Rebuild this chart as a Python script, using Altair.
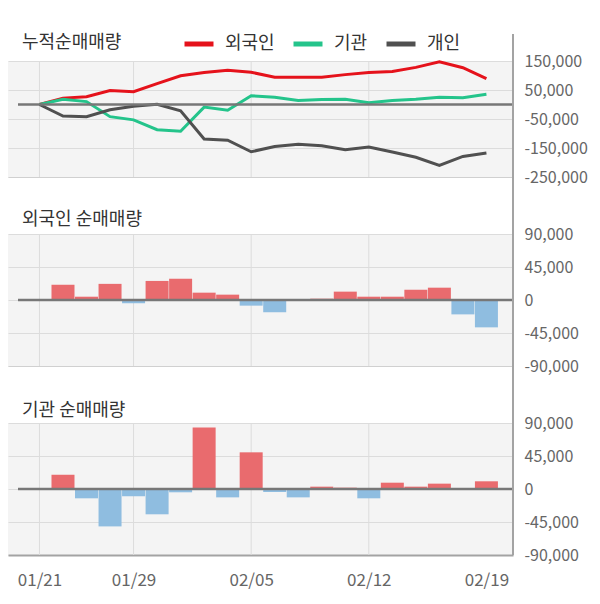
import json
import altair as alt
import pandas as pd

# ---------------- data ----------------
dates = ["01/21", "01/22", "01/23", "01/28", "01/29", "01/30", "01/31", "02/03", "02/04", "02/05",
         "02/06", "02/07", "02/10", "02/11", "02/12", "02/13", "02/14", "02/17", "02/18", "02/19"]
series_names = ["외국인", "기관", "개인"]
series_colors = ["#e5121b", "#24c48b", "#505050"]
panel_titles = ["누적순매매량", "외국인 순매매량", "기관 순매매량"]

cum_foreign = [0, 22000, 27000, 48000, 44000, 72000, 99000, 110000, 118000, 111000,
               94000, 94000, 94000, 103000, 110000, 114000, 128000, 147000, 127000, 89000]
cum_inst = [0, 18000, 10000, -42000, -53000, -87000, -92000, -9000, -20000, 30000,
            25000, 14000, 17000, 18000, 6000, 14000, 18000, 25000, 23000, 35000]
cum_indiv = [0, -40000, -42000, -18000, -6000, 1000, -22000, -119000, -123000, -163000,
             -145000, -137000, -142000, -156000, -147000, -164000, -182000, -210000, -179000, -167000]

net_foreign = [0, 20900, 4500, 22000, -4500, 26000, 29000, 10000, 7300, -7700,
               -16800, 0, 1800, 11400, 4500, 4500, 14000, 16800, -19600, -37300]
net_inst = [0, 19500, -12700, -51000, -10000, -34500, -4500, 83700, -11400, 50000,
            -4100, -11400, 3200, 1800, -12700, 8600, 3200, 7300, 0, 10500]

top_ticks = [-250000, -150000, -50000, 50000, 150000]
bar_ticks = [-90000, -45000, 0, 45000, 90000]
x_label_idx = [0, 4, 9, 14, 19]
x_grid_idx = [0, 4, 9, 14]

# ---------------- styling ----------------
FONT = "Noto Sans CJK KR"
W = 505
H_TOP, H_MID, H_BOT = 116, 132, 132
GAP = 57
GRID = "#dcdcdc"
FRAME = "#a3a3a3"
ZERO = "#777777"
BAR_POS = "#e96b6e"
BAR_NEG = "#8fbde0"

idx = list(range(len(dates)))
xscale = alt.Scale(domain=[-1.125, 19.917], nice=False, zero=False)
minus_fix = "replace(format(datum.value, ','), '\u2212', '-')"

lines_df = pd.DataFrame({
    "i": idx * 3,
    "v": cum_foreign + cum_inst + cum_indiv,
    "s": [series_names[0]] * len(idx) + [series_names[1]] * len(idx) + [series_names[2]] * len(idx),
})
foreign_df = pd.DataFrame({"i": idx, "v": net_foreign})
inst_df = pd.DataFrame({"i": idx, "v": net_inst})
zero_df = pd.DataFrame({"v": [0]})
grid_df = pd.DataFrame({"i": x_grid_idx})
one_df = pd.DataFrame({"a": [0]})


def x_axis(show_labels, dom_color, dom_width):
    if show_labels:
        return alt.Axis(values=x_label_idx, labelExpr=json.dumps(dates) + "[datum.value]",
                        grid=False, ticks=False, domainColor=dom_color, domainWidth=dom_width,
                        labelFontSize=17, labelColor="#666666", labelFont=FONT, labelPadding=17,
                        labelOverlap=False, labelFlush=False, title=None)
    return alt.Axis(labels=False, ticks=False, grid=False, domainColor=dom_color,
                    domainWidth=dom_width, title=None)


def y_axis(vals):
    return alt.Axis(orient="right", values=vals, grid=True, gridColor=GRID, gridWidth=1,
                    domain=False, ticks=False, labelPadding=11, labelFontSize=16,
                    labelColor="#666666", labelFont=FONT, labelExpr=minus_fix,
                    labelOverlap=False, labelFlush=False, labelBound=False, title=None)


def title_text(text, ypos):
    return alt.Chart(one_df).mark_text(
        text=text, align="left", baseline="middle", fontSize=18, font=FONT, color="#333333"
    ).encode(x=alt.value(14), y=alt.value(ypos))


def vgrid():
    return alt.Chart(grid_df).mark_rule(color=GRID, strokeWidth=1).encode(
        x=alt.X("i:Q", scale=xscale))


def zero_rule(yscale, vals):
    return alt.Chart(zero_df).mark_rule(color=ZERO, strokeWidth=2.5).encode(
        y=alt.Y("v:Q", scale=yscale, axis=y_axis(vals)), x=alt.value(10), x2=alt.value(W))


def frame(y0, y1):
    return alt.Chart(one_df).mark_rule(color=FRAME, strokeWidth=2).encode(
        x=alt.value(W), y=alt.value(y0), y2=alt.value(y1))


# ---------------- top panel ----------------
top_y = alt.Scale(domain=[-250000, 150000], nice=False, zero=False)
lines = alt.Chart(lines_df).mark_line(strokeWidth=3).encode(
    x=alt.X("i:Q", scale=xscale, axis=x_axis(False, "#d0d0d0", 1)),
    y=alt.Y("v:Q", scale=top_y, axis=y_axis(top_ticks)),
    color=alt.Color("s:N", scale=alt.Scale(domain=series_names, range=series_colors),
                    sort=series_names,
                    legend=alt.Legend(orient="none", legendX=174, legendY=-34, direction="horizontal",
                                      title=None, symbolType="stroke", symbolStrokeWidth=5,
                                      symbolSize=841, labelFontSize=18, labelColor="#333333",
                                      labelFont=FONT, columnPadding=8, labelOffset=9)),
    order="i:Q",
)
top = alt.layer(vgrid(), lines, zero_rule(top_y, top_ticks), frame(-27, H_TOP + GAP),
                title_text(panel_titles[0], -18)).properties(width=W, height=H_TOP)

# ---------------- middle panel ----------------
mid_y = alt.Scale(domain=[-90000, 90000], nice=False)
mid_bars = alt.Chart(foreign_df).mark_bar(width=23).encode(
    x=alt.X("i:Q", scale=xscale, axis=x_axis(False, "#d0d0d0", 1)),
    y=alt.Y("v:Q", scale=mid_y, axis=y_axis(bar_ticks)),
    color=alt.condition("datum.v >= 0", alt.value(BAR_POS), alt.value(BAR_NEG)),
)
mid = alt.layer(vgrid(), mid_bars, zero_rule(mid_y, bar_ticks), frame(0, H_MID + GAP + 1),
                title_text(panel_titles[1], -14)).properties(width=W, height=H_MID)

# ---------------- bottom panel ----------------
bot_y = alt.Scale(domain=[-90000, 90000], nice=False)
bot_bars = alt.Chart(inst_df).mark_bar(width=23).encode(
    x=alt.X("i:Q", scale=xscale, axis=x_axis(True, FRAME, 2)),
    y=alt.Y("v:Q", scale=bot_y, axis=y_axis(bar_ticks)),
    color=alt.condition("datum.v >= 0", alt.value(BAR_POS), alt.value(BAR_NEG)),
)
bot = alt.layer(vgrid(), bot_bars, zero_rule(bot_y, bar_ticks), frame(0, H_BOT),
                title_text(panel_titles[2], -12)).properties(width=W, height=H_BOT)

chart = alt.vconcat(top, mid, bot, spacing=GAP, bounds="flush").resolve_scale(
    y="independent", x="shared"
).properties(
    padding={"left": 0, "top": 19, "right": 0, "bottom": 36},
    background="white",
).configure_view(fill="#f4f4f4", stroke=None)

chart.save("out.html", embed_options={"renderer": "svg", "actions": False})
